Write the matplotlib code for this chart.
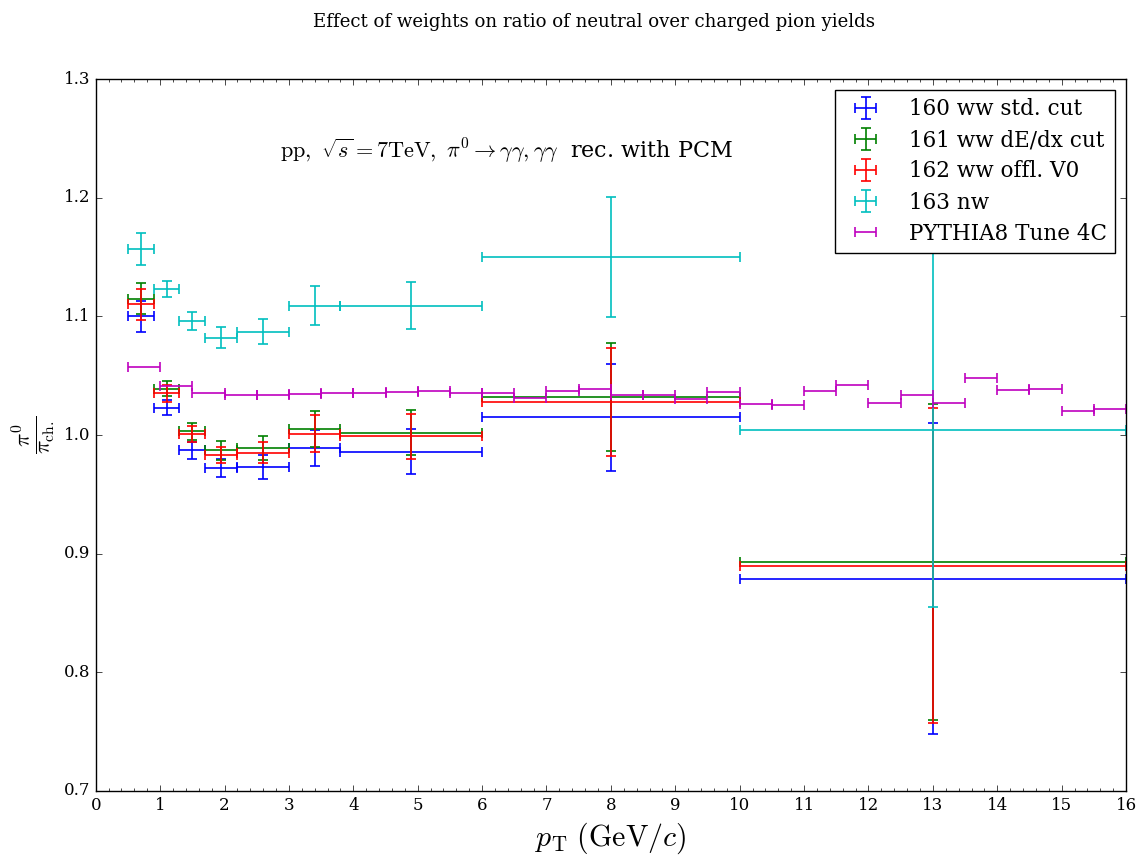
import matplotlib
matplotlib.use("Agg")
import matplotlib.pyplot as plt
from matplotlib.ticker import AutoMinorLocator, MultipleLocator

plt.style.use("classic")
plt.rcParams["font.family"] = "serif"
plt.rcParams["mathtext.fontset"] = "cm"
plt.rcParams["figure.facecolor"] = "white"
plt.rcParams["savefig.facecolor"] = "white"

# pT bins of the data points (centre and half-width)
pt = [0.7, 1.1, 1.5, 1.95, 2.6, 3.4, 4.9, 8.0, 13.0]
pt_err = [0.2, 0.2, 0.2, 0.25, 0.4, 0.4, 1.1, 2.0, 3.0]

ratio_160 = [1.100, 1.023, 0.987, 0.972, 0.973, 0.989, 0.986, 1.015, 0.879]
err_160 = [0.013, 0.0065, 0.007, 0.0078, 0.0098, 0.0155, 0.0187, 0.045, 0.131]

ratio_161 = [1.115, 1.039, 1.003, 0.987, 0.989, 1.005, 1.002, 1.032, 0.893]
err_161 = [0.013, 0.0065, 0.007, 0.008, 0.010, 0.0155, 0.019, 0.0455, 0.1335]

ratio_162 = [1.110, 1.035, 1.001, 0.983, 0.985, 1.001, 0.999, 1.028, 0.890]
err_162 = [0.013, 0.007, 0.007, 0.007, 0.009, 0.0157, 0.019, 0.0455, 0.1325]

ratio_163 = [1.157, 1.123, 1.096, 1.082, 1.087, 1.109, 1.109, 1.150, 1.004]
err_163 = [0.0135, 0.0067, 0.0076, 0.0087, 0.0105, 0.0165, 0.020, 0.0508, 0.149]

# PYTHIA8 prediction in 0.5 GeV/c bins from 0.5 to 16
pythia_pt = [0.75 + 0.5 * i for i in range(31)]
pythia_ratio = [1.057, 1.041, 1.035, 1.034, 1.034, 1.0345, 1.035, 1.035, 1.036,
                1.037, 1.035, 1.035, 1.031, 1.037, 1.039, 1.034, 1.034, 1.030,
                1.0365, 1.026, 1.0256, 1.037, 1.042, 1.027, 1.0335, 1.027,
                1.048, 1.038, 1.0385, 1.0205, 1.0217]

series = [
    (ratio_160, err_160, "b", "160 ww std. cut"),
    (ratio_161, err_161, "g", "161 ww dE/dx cut"),
    (ratio_162, err_162, "r", "162 ww offl. V0"),
    (ratio_163, err_163, "c", "163 nw"),
]

fig = plt.figure(figsize=(11.41, 8.58), dpi=100)
ax = fig.add_axes([0.0839, 0.0781, 0.9030, 0.8298])

for vals, errs, col, lab in series:
    ax.errorbar(pt, vals, xerr=pt_err, yerr=errs, fmt="none", ecolor=col,
                capsize=3.3, capthick=1.2, elinewidth=1.2, label=lab)
ax.errorbar(pythia_pt, pythia_ratio, xerr=0.25, fmt="none", ecolor="m",
            capsize=3.3, capthick=1.2, elinewidth=1.2, label="PYTHIA8 Tune 4C")

ax.set_xlim(0, 16)
ax.set_ylim(0.7, 1.3)
ax.xaxis.set_major_locator(MultipleLocator(1))
ax.xaxis.set_minor_locator(AutoMinorLocator(5))
ax.yaxis.set_major_locator(MultipleLocator(0.1))
ax.tick_params(labelsize=12)

ax.set_xlabel(r"$p_{\mathrm{T}}\ (\mathrm{GeV}/c)$", fontsize=21.5)
ax.set_ylabel(r"$\frac{\pi^{0}}{\pi_{\mathrm{ch.}}}$", fontsize=23)

ax.text(0.399, 0.90,
        r"$\mathrm{pp},\ \sqrt{s}=7\mathrm{TeV},\ \pi^{0}\rightarrow\gamma\gamma,\gamma\gamma$  rec. with PCM",
        transform=ax.transAxes, ha="center", va="center", fontsize=16)

ax.legend(loc="upper right", fontsize=15.5, numpoints=1, handlelength=2.0,
          handletextpad=1.0, labelspacing=0.42, borderpad=0.4)
fig.suptitle("Effect of weights on ratio of neutral over charged pion yields",
             fontsize=13.1, x=0.521, y=0.985)

fig.savefig("out.png", dpi=100)
